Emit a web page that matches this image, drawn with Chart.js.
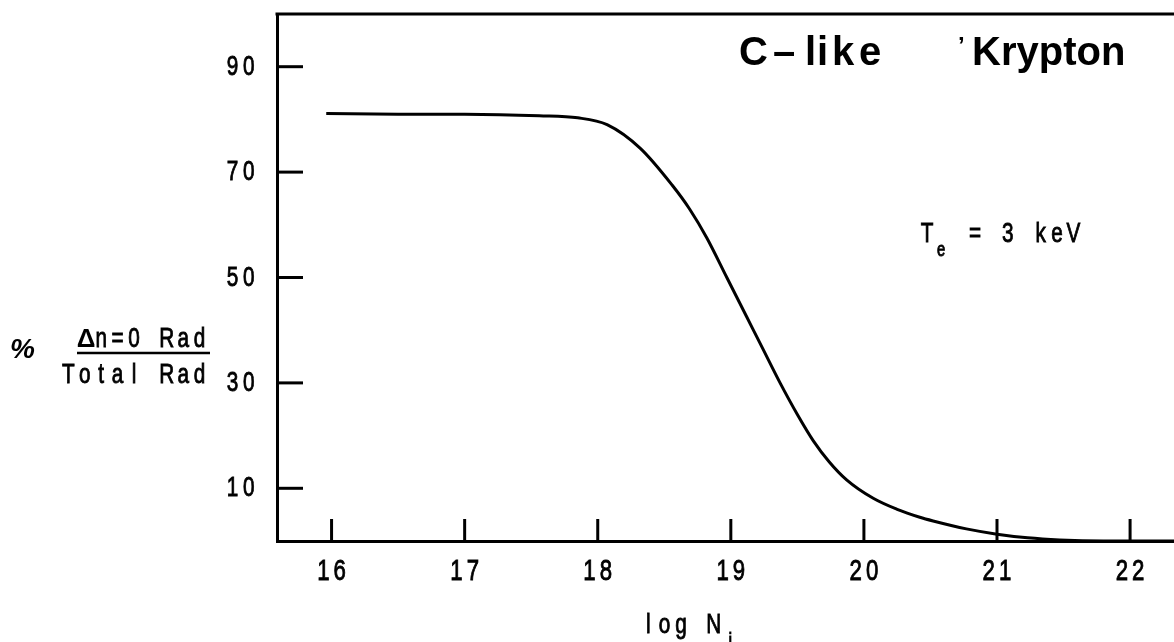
<!DOCTYPE html>
<html>
<head>
<meta charset="utf-8">
<title>C-like Krypton</title>
<script src="https://cdn.jsdelivr.net/npm/chart.js@4"></script>
<style>
    body { margin: 0; background: #fff; }
    #wrap { width: 1174px; height: 642px; }
</style>
</head>
<body>
<div id="wrap"><canvas id="chart" width="1174" height="642"></canvas></div>
<script>
// log N_i on x, percentage of dn=0 radiation on y
const logN = [15.96, 16.5, 17.0, 17.56, 17.85, 18.07, 18.32, 18.56, 18.69, 18.82, 18.97, 19.12, 19.24, 19.37, 19.50, 19.62, 19.74, 19.87, 20.07, 20.25, 20.42, 20.52, 20.77, 21.0, 21.23, 21.47, 21.8, 22.33];
const pctDn0 = [81.1, 81.0, 81.0, 80.7, 80.3, 79.0, 74.5, 67.5, 63.0, 57.5, 50.0, 42.5, 36.5, 30.0, 24.0, 19.0, 15.0, 11.6, 8.1, 6.0, 4.5, 3.8, 2.3, 1.3, 0.6, 0.2, 0, 0];

const xTicks = [16, 17, 18, 19, 20, 21, 22];
const yTicks = [10, 30, 50, 70, 90];

const FONT = '"Liberation Sans", Arial, sans-serif';

// plotter style lettering: fixed cell width, squeezed glyphs
function drawMono(ctx, text, x0, baseline, size, advance, sx) {
    ctx.font = size + 'px ' + FONT;
    ctx.textAlign = 'center';
    ctx.textBaseline = 'alphabetic';
    ctx.lineWidth = 0.9;
    for (let i = 0; i < text.length; i++) {
        ctx.save();
        ctx.translate(x0 + advance * (i + 0.5), baseline);
        ctx.scale(sx, 1);
        ctx.fillText(text[i], 0, 0);
        ctx.strokeText(text[i], 0, 0);
        ctx.restore();
    }
}

const decorations = {
    id: 'decorations',
    afterDraw(chart) {
        const ctx = chart.ctx;
        const area = chart.chartArea;
        const xs = chart.scales.x;
        const ys = chart.scales.y;
        ctx.save();
        ctx.fillStyle = '#000';
        ctx.strokeStyle = '#000';
        ctx.lineCap = 'butt';

        // top frame line
        ctx.lineWidth = 3;
        ctx.beginPath();
        ctx.moveTo(area.left - 1.5, area.top);
        ctx.lineTo(area.right, area.top);
        ctx.stroke();

        // ticks pointing into the plot
        yTicks.forEach(v => {
            const py = ys.getPixelForValue(v);
            ctx.lineWidth = 3;
            ctx.beginPath();
            ctx.moveTo(area.left, py);
            ctx.lineTo(area.left + 26, py);
            ctx.stroke();
            const s = String(v);
            drawMono(ctx, s, 257 - s.length * 16.4, py + 8, 28, 16.4, 0.74);
        });
        xTicks.forEach(v => {
            const px = xs.getPixelForValue(v);
            ctx.lineWidth = 3;
            ctx.beginPath();
            ctx.moveTo(px, area.bottom);
            ctx.lineTo(px, area.bottom - 22);
            ctx.stroke();
            const s = String(v);
            drawMono(ctx, s, px - s.length * 8.2, area.bottom + 39, 30, 16.4, 0.74);
        });

        // axis titles
        drawMono(ctx, 'log N', 640, 633, 28, 16.4, 0.74);
        drawMono(ctx, 'i', 722, 648, 22, 16.4, 0.74);

        drawMono(ctx, 'Total Rad', 60.2, 383, 28, 16.4, 0.74);
        drawMono(ctx, 'n=0 Rad', 93, 347, 28, 16.4, 0.74);
        ctx.font = 'bold 26px ' + FONT;
        ctx.textAlign = 'center';
        ctx.fillText('\u0394', 86, 347);
        ctx.lineWidth = 2.5;
        ctx.beginPath();
        ctx.moveTo(77, 353);
        ctx.lineTo(210, 353);
        ctx.stroke();
        ctx.font = 'italic bold 28px ' + FONT;
        ctx.textAlign = 'left';
        ctx.fillText('%', 10, 358);

        // T_e annotation
        drawMono(ctx, 'T', 919, 242, 28, 16.4, 0.74);
        drawMono(ctx, 'e', 933, 256, 20, 16.4, 0.74);
        drawMono(ctx, '= 3 keV', 966.8, 242, 28, 16.4, 0.74);

        // title, letters placed as typed on the original
        ctx.font = 'bold 40px ' + FONT;
        ctx.textAlign = 'left';
        const title = [['C', 739], ['\u2013', 773], ['l', 805], ['i', 817], ['k', 832], ['e', 859]];
        title.forEach(t => ctx.fillText(t[0], t[1], 65));
        ctx.fillText('Krypton', 972, 65);
        ctx.font = 'bold 24px ' + FONT;
        ctx.fillText('\u2019', 958, 54);

        ctx.restore();
    }
};

const points = logN.map((x, i) => ({ x: x, y: pctDn0[i] }));

new Chart(document.getElementById('chart').getContext('2d'), {
    type: 'scatter',
    data: {
        datasets: [{
            label: 'C-like Krypton',
            data: points,
            showLine: true,
            borderColor: '#000',
            borderWidth: 3,
            pointRadius: 0,
            cubicInterpolationMode: 'monotone',
            clip: false
        }]
    },
    options: {
        responsive: false,
        devicePixelRatio: 1,
        animation: false,
        layout: { padding: { top: 14, right: 0, left: 0, bottom: 0 } },
        plugins: {
            legend: { display: false },
            tooltip: { enabled: false }
        },
        scales: {
            x: {
                type: 'linear',
                min: 15.59,
                max: 22.33,
                grid: { display: false },
                ticks: { display: false },
                border: { display: true, color: '#000', width: 3 },
                afterFit: s => { s.height = 101; }
            },
            y: {
                type: 'linear',
                min: 0,
                max: 100,
                grid: { display: false },
                ticks: { display: false },
                border: { display: true, color: '#000', width: 3 },
                afterFit: s => { s.width = 277; }
            }
        }
    },
    plugins: [decorations]
});
</script>
</body>
</html>
